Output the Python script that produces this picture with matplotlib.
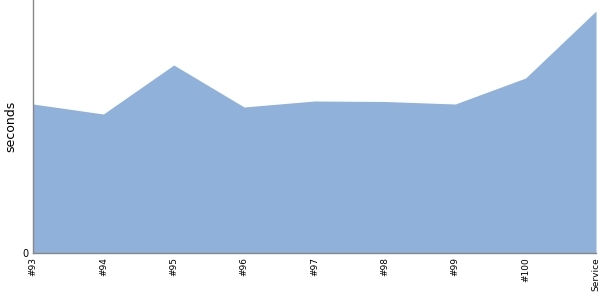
import matplotlib
matplotlib.use("Agg")
import matplotlib.pyplot as plt

categories = ["#93", "#94", "#95", "#96", "#97", "#98", "#99", "#100", "Service"]
values = [149, 139, 188, 146, 152, 151.5, 149, 175, 242]

fig = plt.figure(figsize=(6, 3), dpi=100)
ax = fig.add_axes([33/600, 47/300, 563/600, 253/300])
x = list(range(len(categories)))
ax.fill_between(x, values, 0, color="#8fb1da", linewidth=0)
ax.set_xlim(0, len(categories) - 1)
ax.set_ylim(0, 253)
ax.set_xticks(x)
ax.set_xticklabels(categories, rotation=90, fontsize=6.5)
ax.set_yticks([0])
ax.set_yticklabels(["0"], fontsize=7)
ax.tick_params(axis="both", length=0, pad=3)
for s in ["top", "right"]:
    ax.spines[s].set_visible(False)
for s in ["left", "bottom"]:
    ax.spines[s].set_color("#888888")
    ax.spines[s].set_linewidth(1)
fig.text(11/600, 1 - 126/300, "seconds", rotation=90, ha="center", va="center",
         fontsize=9)
fig.savefig("out.png", dpi=100)
